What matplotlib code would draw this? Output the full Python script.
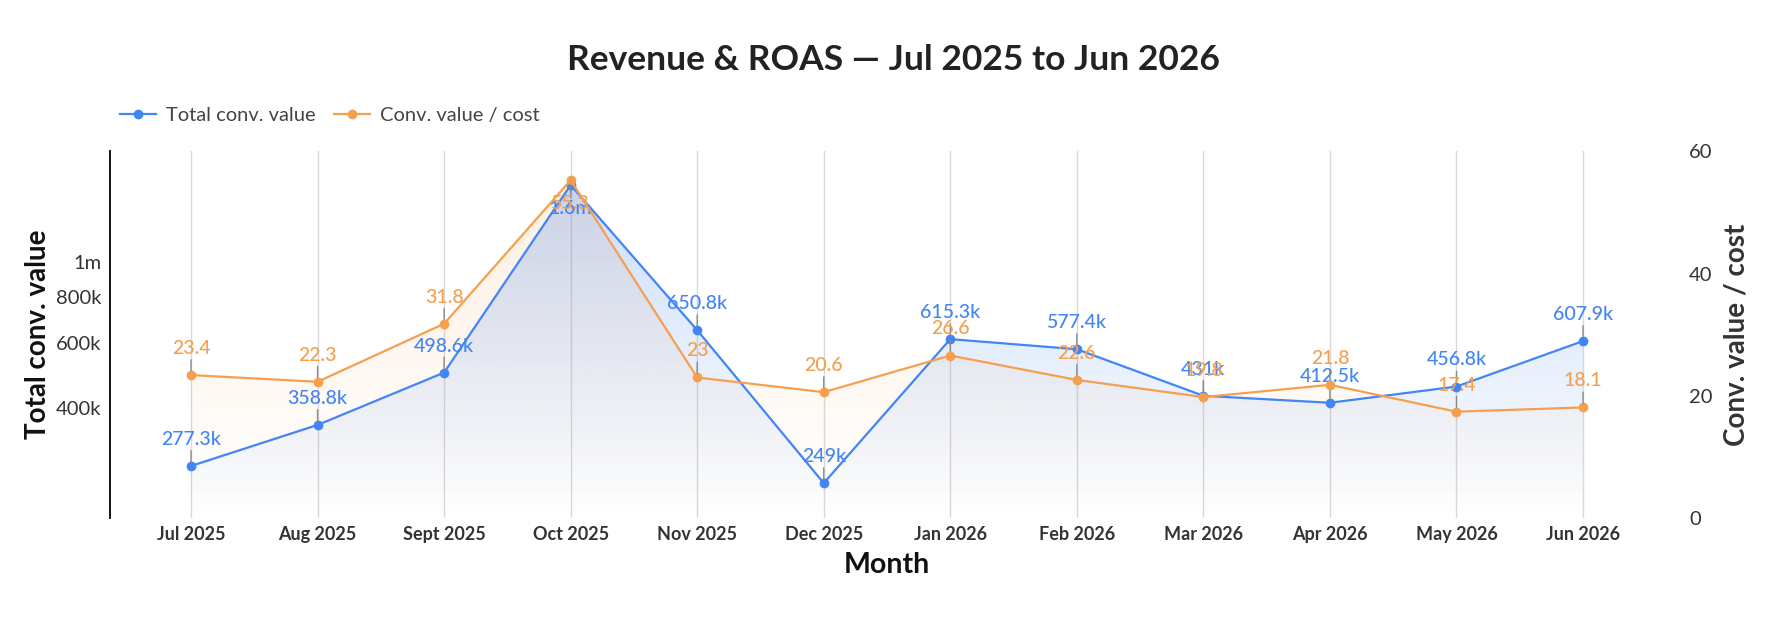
import matplotlib.pyplot as plt
import numpy as np
from matplotlib.patches import Polygon
from matplotlib.colors import to_rgb

plt.rcParams['font.family'] = ['Lato', 'DejaVu Sans']

months = ['Jul 2025', 'Aug 2025', 'Sept 2025', 'Oct 2025', 'Nov 2025', 'Dec 2025',
          'Jan 2026', 'Feb 2026', 'Mar 2026', 'Apr 2026', 'May 2026', 'Jun 2026']
conv_value = [277300, 358800, 498600, 1620000, 650800, 249000,
              615300, 577400, 431000, 412500, 456800, 607900]
roas = [23.4, 22.3, 31.8, 55.3, 23.0, 20.6, 26.6, 22.6, 19.8, 21.8, 17.4, 18.1]

blue = '#4285f4'
orange = '#f59f4f'


def fmt_money(v):
    if v >= 1e6:
        s, suf = f"{v / 1e6:.1f}", 'm'
    else:
        s, suf = f"{v / 1e3:.1f}", 'k'
    if s.endswith('.0'):
        s = s[:-2]
    return s + suf


def fmt_roas(v):
    s = f"{v:.1f}"
    return s[:-2] if s.endswith('.0') else s


def gradient_fill(ax, xs, ys, color, transform, top_alpha=0.3, z=1):
    # gradient image in axes coords, clipped by the area under the line
    base = transform.inverted().transform(ax.transAxes.transform((0, 0)))[1]
    verts = [(xs[0], base)] + list(zip(xs, ys)) + [(xs[-1], base)]
    poly = Polygon(verts, closed=True, transform=transform, facecolor='none', edgecolor='none')
    img = np.zeros((256, 1, 4))
    img[:, :, :3] = to_rgb(color)
    img[:, 0, 3] = top_alpha * np.linspace(1.0, 0.0, 256)
    im = ax.imshow(img, extent=[0, 1, 0, 1], transform=ax.transAxes, aspect='auto',
                   zorder=z, interpolation='bicubic')
    im.set_clip_path(poly)


fig = plt.figure(figsize=(17.86, 6.32), dpi=100)
ax = fig.add_axes([0.0616, 0.1804, 0.8701, 0.5799])
ax2 = ax.twinx()

x = np.arange(len(months))

ax.set_yscale('log')
ax.set_ylim(2e5, 2e6)
ax.set_xlim(-0.64, len(months) - 1 + 0.64)
ax2.set_ylim(0, 60)

# fills, both drawn on the lower axes so lines stay on top
gradient_fill(ax, x, roas, orange, ax2.transData, top_alpha=0.18, z=1)
gradient_fill(ax, x, conv_value, blue, ax.transData, top_alpha=0.3, z=1.1)

for xi in x:
    ax.axvline(xi, color='#d9d9d9', lw=1, zorder=0)

ax.plot(x, conv_value, color=blue, lw=1.6, marker='o', ms=6, zorder=3)
ax2.plot(x, roas, color=orange, lw=1.6, marker='o', ms=6, zorder=3)


def add_labels(axis, vals, texts, color, frac_func):
    for xi, v, t in zip(x, vals, texts):
        below = frac_func(v) > 0.85
        off = -11 if below else 13
        axis.annotate(t, (xi, v), xytext=(0, off), textcoords='offset points',
                      ha='center', va='top' if below else 'bottom', color=color,
                      fontsize=14, fontweight='medium', zorder=5,
                      arrowprops=dict(arrowstyle='-', color='#8a8a8a', lw=1,
                                      shrinkA=0, shrinkB=3))


add_labels(ax, conv_value, [fmt_money(v) for v in conv_value], blue,
           lambda v: np.log10(v / 2e5))
add_labels(ax2, roas, [fmt_roas(v) for v in roas], orange, lambda v: v / 60)

ax.set_yticks([4e5, 6e5, 8e5, 1e6])
ax.set_yticklabels(['400k', '600k', '800k', '1m'])
ax.yaxis.set_minor_locator(plt.NullLocator())
ax.yaxis.set_minor_formatter(plt.NullFormatter())
ax2.set_yticks([0, 20, 40, 60])

ax.set_xticks(x)
ax.set_xticklabels(months, fontweight='bold')
ax.tick_params(axis='x', length=0, pad=6, labelsize=13, labelcolor='#333333')
ax.tick_params(axis='y', length=0, pad=6, labelsize=14.5, labelcolor='#333333')
ax2.tick_params(axis='y', length=0, pad=18, labelsize=14.5, labelcolor='#333333')

for s in ['top', 'right', 'bottom']:
    ax.spines[s].set_visible(False)
for s in ['top', 'right', 'bottom', 'left']:
    ax2.spines[s].set_visible(False)
ax.spines['left'].set_color('black')
ax.spines['left'].set_linewidth(1.3)

ax.set_xlabel('Month', fontsize=20.5, fontweight='bold', color='#111111', labelpad=6)
ax.set_ylabel('Total conv. value', fontsize=20, fontweight='bold', color='#111111', labelpad=4)
ax2.set_ylabel('Conv. value / cost', fontsize=20, fontweight='bold', color='#333333', labelpad=8)

fig.suptitle('Revenue & ROAS — Jul 2025 to Jun 2026', x=0.5, y=0.93,
             fontsize=25.5, fontweight='bold', color='#222222')

handles = [plt.Line2D([], [], color=blue, lw=1.6, marker='o', ms=6),
           plt.Line2D([], [], color=orange, lw=1.6, marker='o', ms=6)]
fig.legend(handles, ['Total conv. value', 'Conv. value / cost'], loc='center left',
           bbox_to_anchor=(0.057, 0.818), ncol=2, frameon=False, fontsize=14.5,
           labelcolor='#444444', handlelength=1.8, handletextpad=0.5, columnspacing=0.9)

fig.savefig('out.png', dpi=100, facecolor='white')
